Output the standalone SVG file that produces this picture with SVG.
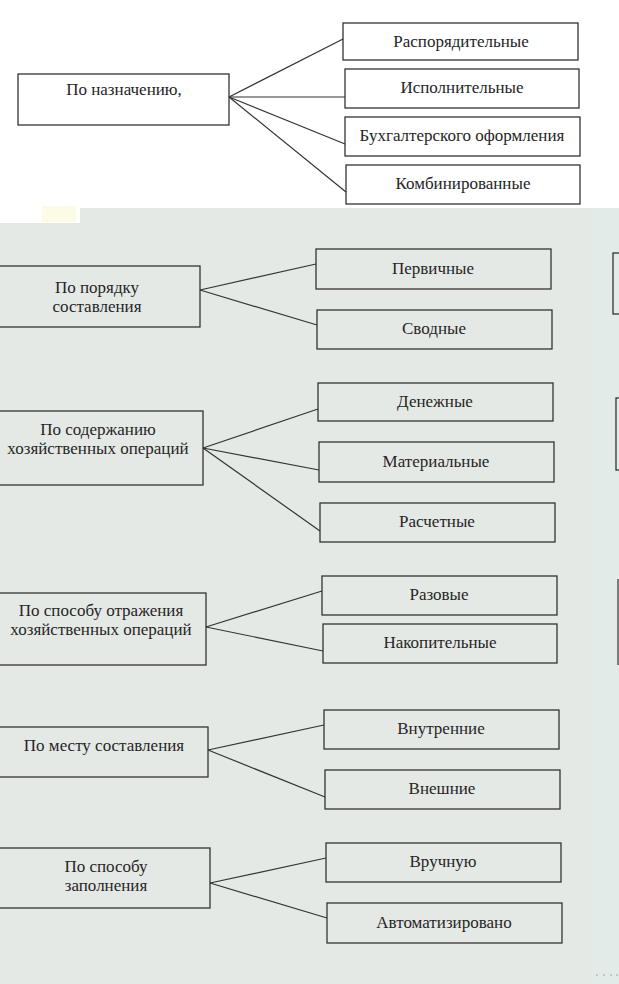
<svg xmlns="http://www.w3.org/2000/svg" width="619" height="984" viewBox="0 0 619 984">
<style>
.bx{fill:none;stroke:#333;stroke-width:1.3}
.ln{fill:none;stroke:#333;stroke-width:1.2}
.t{font-family:'Liberation Serif','DejaVu Serif','Times New Roman',serif;font-size:17px;fill:#252525;text-anchor:middle}
</style>
<rect x="0" y="0" width="619" height="984" fill="#ffffff"/>
<rect x="80" y="208" width="539" height="776" fill="#e5e9e6"/>
<rect x="0" y="223" width="80" height="761" fill="#e5e9e6"/>
<rect x="592" y="208" width="27" height="776" fill="#e3ebe9"/>
<rect x="42" y="206" width="34" height="16" fill="#fbfbe6"/>
<g id="connectors">
<line class="ln" x1="229" y1="97" x2="343" y2="39"/>
<line class="ln" x1="229" y1="97" x2="345" y2="97"/>
<line class="ln" x1="229" y1="97" x2="345" y2="144"/>
<line class="ln" x1="229" y1="97" x2="346" y2="192"/>
<line class="ln" x1="200" y1="290" x2="316" y2="264"/>
<line class="ln" x1="200" y1="290" x2="317" y2="325"/>
<line class="ln" x1="203" y1="448" x2="318" y2="409"/>
<line class="ln" x1="203" y1="448" x2="319" y2="470"/>
<line class="ln" x1="203" y1="448" x2="320" y2="531"/>
<line class="ln" x1="206" y1="627" x2="322" y2="591"/>
<line class="ln" x1="206" y1="627" x2="323" y2="651"/>
<line class="ln" x1="208" y1="750" x2="324" y2="725"/>
<line class="ln" x1="208" y1="750" x2="325" y2="797"/>
<line class="ln" x1="210" y1="883" x2="326" y2="858"/>
<line class="ln" x1="210" y1="883" x2="327" y2="918"/>
</g>
<g id="n-naznach"><rect class="bx" x="18" y="74" width="211" height="51"/><text class="t" x="124" y="95">По назначению,</text></g>
<g id="n-rasp"><rect class="bx" x="343" y="23" width="235" height="37"/><text class="t" x="461" y="47">Распорядительные</text></g>
<g id="n-isp"><rect class="bx" x="345" y="69" width="234" height="39"/><text class="t" x="462" y="93">Исполнительные</text></g>
<g id="n-buh"><rect class="bx" x="345" y="117" width="235" height="39"/><text class="t" x="462" y="141">Бухгалтерского оформления</text></g>
<g id="n-komb"><rect class="bx" x="346" y="165" width="234" height="39"/><text class="t" x="463" y="189">Комбинированные</text></g>

<g id="n-poryadok"><rect class="bx" x="-2" y="266" width="202" height="61"/><text class="t" x="97" y="293">По порядку</text><text class="t" x="97" y="312">составления</text></g>
<g id="n-perv"><rect class="bx" x="316" y="249" width="235" height="40"/><text class="t" x="433" y="274">Первичные</text></g>
<g id="n-svod"><rect class="bx" x="317" y="310" width="235" height="39"/><text class="t" x="434" y="334">Сводные</text></g>

<g id="n-soderzh"><rect class="bx" x="-2" y="411" width="205" height="74"/><text class="t" x="98" y="435">По содержанию</text><text class="t" x="98" y="454">хозяйственных операций</text></g>
<g id="n-den"><rect class="bx" x="318" y="383" width="235" height="38"/><text class="t" x="435" y="407">Денежные</text></g>
<g id="n-mat"><rect class="bx" x="319" y="442" width="235" height="40"/><text class="t" x="436" y="467">Материальные</text></g>
<g id="n-rasch"><rect class="bx" x="320" y="503" width="235" height="39"/><text class="t" x="437" y="527">Расчетные</text></g>

<g id="n-otrazh"><rect class="bx" x="-2" y="593" width="208" height="72"/><text class="t" x="101" y="616">По способу отражения</text><text class="t" x="101" y="635">хозяйственных операций</text></g>
<g id="n-raz"><rect class="bx" x="322" y="576" width="235" height="39"/><text class="t" x="439" y="600">Разовые</text></g>
<g id="n-nakop"><rect class="bx" x="323" y="624" width="234" height="39"/><text class="t" x="440" y="648">Накопительные</text></g>

<g id="n-mesto"><rect class="bx" x="-2" y="727" width="210" height="50"/><text class="t" x="104" y="751">По месту составления</text></g>
<g id="n-vnutr"><rect class="bx" x="324" y="710" width="235" height="39"/><text class="t" x="441" y="734">Внутренние</text></g>
<g id="n-vnesh"><rect class="bx" x="325" y="770" width="235" height="39"/><text class="t" x="442" y="794">Внешние</text></g>

<g id="n-zapoln"><rect class="bx" x="-2" y="848" width="212" height="60"/><text class="t" x="106" y="872">По способу</text><text class="t" x="106" y="891">заполнения</text></g>
<g id="n-vruch"><rect class="bx" x="326" y="843" width="235" height="39"/><text class="t" x="443" y="867">Вручную</text></g>
<g id="n-avto"><rect class="bx" x="327" y="903" width="235" height="40"/><text class="t" x="444" y="928">Автоматизировано</text></g>

<g id="edge-partials">
<rect class="bx" x="613" y="253" width="20" height="61"/>
<rect class="bx" x="616" y="398" width="20" height="72"/>
<line class="ln" x1="618" y1="579" x2="618" y2="665"/>
</g>
<g id="dots" fill="#999">
<circle cx="597" cy="975" r="0.8"/><circle cx="604" cy="975" r="0.8"/><circle cx="611" cy="975" r="0.8"/><circle cx="617" cy="975" r="0.8"/>
</g>
</svg>
